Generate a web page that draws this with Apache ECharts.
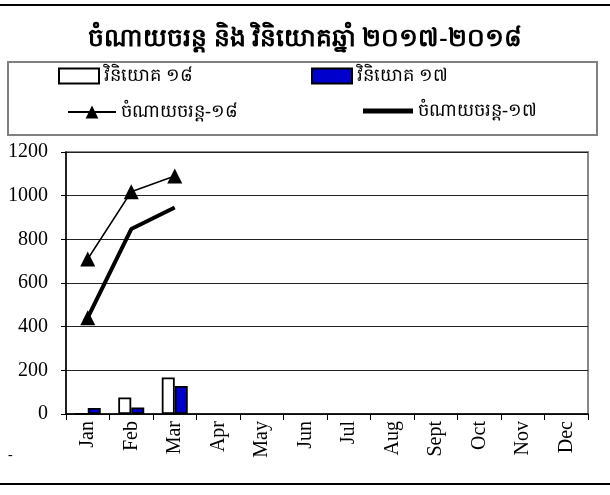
<!DOCTYPE html>
<html>
<head>
<meta charset="utf-8">
<script src="https://cdn.jsdelivr.net/npm/echarts@6/dist/echarts.min.js"></script>
<style>
html, body { margin: 0; padding: 0; background: #fff; }
#main { width: 610px; height: 495px; }
</style>
</head>
<body>
<div id="main"></div>
<script>
// ទិន្នន័យ
var months = ['Jan', 'Feb', 'Mar', 'Apr', 'May', 'Jun', 'Jul', 'Aug', 'Sept', 'Oct', 'Nov', 'Dec'];
var invest18 = [0, 76, 167];
var invest17 = [28, 30, 128];
var spend18 = [710, 1018, 1090];
var spend17 = [441, 847, 946];
var names = ['វិនិយោគ ១៨', 'វិនិយោគ ១៧', 'ចំណាយចរន្ត-១៨', 'ចំណាយចរន្ត-១៧'];

var serif = '"Liberation Serif", "DejaVu Serif", serif';

function legendAt(name, left, top, w, h, icon) {
	var l = {
		data: [name],
		left: left,
		top: top,
		itemWidth: w,
		itemHeight: h,
		itemGap: 4,
		selectedMode: false,
		textStyle: { color: '#000', fontSize: 18, fontFamily: serif }
	};
	if (icon) l.icon = icon;
	return l;
}

var myChart = echarts.init(document.getElementById('main'));

// ចំណុចទីមួយនៃខ្សែ ១៧ មានសញ្ញាត្រីកោណ
var spend17Data = spend17.map(function (v, i) {
	return i === 0 ? { value: v, symbol: 'triangle', symbolSize: 15 } : v;
});

var option = {
	animation: false,
	title: {
		text: 'ចំណាយចរន្ត និង វិនិយោគឆ្នាំ ២០១៧-២០១៨',
		left: 'center',
		top: 22,
		textStyle: { color: '#000', fontSize: 25, fontWeight: 'bold', fontFamily: serif }
	},
	legend: [
		legendAt(names[0], 53, 62, 40, 15, 'rect'),
		legendAt(names[1], 306, 62, 40, 15, 'rect'),
		legendAt(names[2], 62, 98, 48, 16),
		legendAt(names[3], 358, 97, 50, 5, 'rect')
	],
	graphic: [
		{ type: 'line', shape: { x1: 0, y1: 5, x2: 610, y2: 5 }, style: { stroke: '#000', lineWidth: 2 } },
		{ type: 'line', shape: { x1: 0, y1: 484, x2: 610, y2: 484 }, style: { stroke: '#000', lineWidth: 2 } },
		{ type: 'rect', shape: { x: 8, y: 62, width: 589, height: 73 }, style: { fill: 'none', stroke: '#808080', lineWidth: 2 }, z: -1 },
		{ type: 'text', left: 8, top: 448, style: { text: '-', font: '14px ' + serif, fill: '#000' } }
	],
	grid: {
		left: 66,
		right: 22,
		top: 152,
		bottom: 81,
		show: true,
		borderColor: '#888',
		borderWidth: 2,
		containLabel: false
	},
	xAxis: {
		type: 'category',
		data: months,
		axisLine: { lineStyle: { color: '#000', width: 1.5 } },
		axisTick: { show: true, length: 6, inside: false, lineStyle: { color: '#000' } },
		axisLabel: { rotate: 90, color: '#000', fontSize: 20, fontFamily: serif, margin: 7, interval: 0 }
	},
	yAxis: {
		type: 'value',
		min: 0,
		max: 1200,
		interval: 200,
		axisLine: { show: true, lineStyle: { color: '#000', width: 1.5 } },
		axisTick: { show: true, length: 5, lineStyle: { color: '#000' } },
		axisLabel: { color: '#000', fontSize: 20, fontFamily: serif, margin: 18, formatter: function (v) { return String(v); } },
		splitLine: { lineStyle: { color: '#222', width: 1 } }
	},
	series: [
		{
			name: names[0],
			type: 'bar',
			data: invest18,
			barWidth: 13,
			barGap: '0%',
			itemStyle: { color: '#fff', borderColor: '#000', borderWidth: 1.8 }
		},
		{
			name: names[1],
			type: 'bar',
			data: invest17,
			barWidth: 13,
			itemStyle: { color: '#0000cc', borderColor: '#000', borderWidth: 1.8 }
		},
		{
			name: names[2],
			type: 'line',
			data: spend18,
			symbol: 'triangle',
			symbolSize: 15,
			lineStyle: { color: '#000', width: 1.5 },
			itemStyle: { color: '#000' }
		},
		{
			name: names[3],
			type: 'line',
			data: spend17Data,
			symbol: 'none',
			lineStyle: { color: '#000', width: 4 },
			itemStyle: { color: '#000' }
		}
	]
};

myChart.setOption(option);
</script>
</body>
</html>
